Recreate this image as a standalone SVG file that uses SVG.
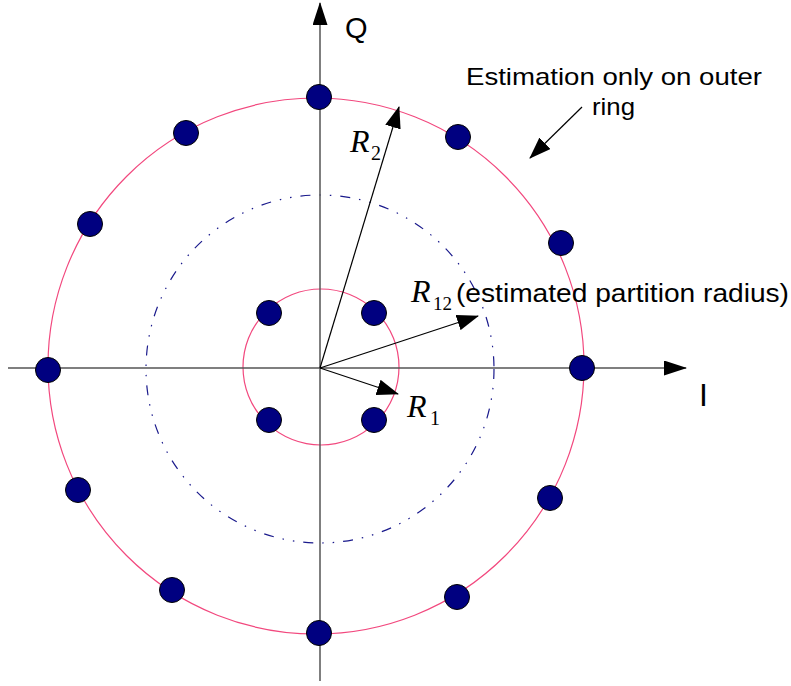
<svg xmlns="http://www.w3.org/2000/svg" width="791" height="686" viewBox="0 0 791 686">
<style>
.axis{stroke:#555;stroke-width:1.5;fill:none}
.vec{stroke:#000;stroke-width:1.2;fill:none}
.ring{stroke:#f2487e;stroke-width:1.2;fill:none}
.part{stroke:#1a1a8c;stroke-width:1.2;fill:none;stroke-dasharray:10 9 1.5 9 1.5 9}
.dot{fill:#000080;stroke:#000;stroke-width:1}
.lab{font-family:"Liberation Sans",Arial,sans-serif;fill:#000}
.rl{font-family:"Liberation Serif","Times New Roman",serif;font-style:italic;fill:#000}
.sub{font-family:"Liberation Serif","Times New Roman",serif;fill:#000}
</style>
<defs>
<marker id="ah" viewBox="0 0 22 16" refX="21" refY="8" markerWidth="22" markerHeight="16" markerUnits="userSpaceOnUse" orient="auto">
<path d="M0,0 L22,8 L0,16 Z" fill="#000"/>
</marker>
<marker id="ax" viewBox="0 0 23 15" refX="22" refY="7.5" markerWidth="23" markerHeight="15" markerUnits="userSpaceOnUse" orient="auto">
<path d="M0,0 L23,7.5 L0,15 Z" fill="#000"/>
</marker>
</defs>
<g id="rings">
<circle class="ring" cx="316" cy="366" r="268"/>
<circle class="ring" cx="321" cy="367" r="78"/>
<circle class="part" cx="320" cy="369" r="174"/>
</g>
<g id="connectors">
<line class="axis" x1="320" y1="681" x2="320" y2="3" marker-end="url(#ax)"/>
<line class="axis" x1="8" y1="368" x2="686" y2="368" marker-end="url(#ax)"/>
<line class="vec" x1="320" y1="368" x2="399" y2="107" marker-end="url(#ah)"/>
<line class="vec" x1="320" y1="368" x2="478" y2="316" marker-end="url(#ah)"/>
<line class="vec" x1="320" y1="368" x2="398" y2="394" marker-end="url(#ah)"/>
<line class="vec" x1="582" y1="107" x2="530" y2="158" marker-end="url(#ah)"/>
</g>
<g id="outer-points">
<circle class="dot" cx="319" cy="97" r="12.5"/>
<circle class="dot" cx="186" cy="133" r="12.5"/>
<circle class="dot" cx="90" cy="224" r="12.5"/>
<circle class="dot" cx="48" cy="370" r="12.5"/>
<circle class="dot" cx="78" cy="490" r="12.5"/>
<circle class="dot" cx="172" cy="590" r="12.5"/>
<circle class="dot" cx="319" cy="633" r="12.5"/>
<circle class="dot" cx="457" cy="597" r="12.5"/>
<circle class="dot" cx="550" cy="498" r="12.5"/>
<circle class="dot" cx="582" cy="368" r="12.5"/>
<circle class="dot" cx="561" cy="243" r="12.5"/>
<circle class="dot" cx="458" cy="137" r="12.5"/>
</g>
<g id="inner-points">
<circle class="dot" cx="269" cy="313" r="12.5"/>
<circle class="dot" cx="374" cy="313" r="12.5"/>
<circle class="dot" cx="269" cy="420" r="12.5"/>
<circle class="dot" cx="374" cy="420" r="12.5"/>
</g>
<g id="labels">
<text class="lab" x="345" y="38" font-size="29">Q</text>
<text class="lab" x="699" y="406" font-size="32">I</text>
<text class="lab" x="466" y="85" font-size="24" textLength="296" lengthAdjust="spacingAndGlyphs">Estimation only on outer</text>
<text class="lab" x="592" y="115" font-size="24" textLength="43" lengthAdjust="spacingAndGlyphs">ring</text>
<text class="rl" x="350" y="152" font-size="32">R</text>
<text class="sub" x="371" y="160" font-size="20">2</text>
<text class="rl" x="411" y="302" font-size="32">R</text>
<text class="sub" x="433" y="310" font-size="19">12</text>
<text class="lab" x="456" y="302" font-size="25" textLength="333" lengthAdjust="spacingAndGlyphs">(estimated partition radius)</text>
<text class="rl" x="407" y="417" font-size="32">R</text>
<text class="sub" x="430" y="425" font-size="20">1</text>
</g>
</svg>
